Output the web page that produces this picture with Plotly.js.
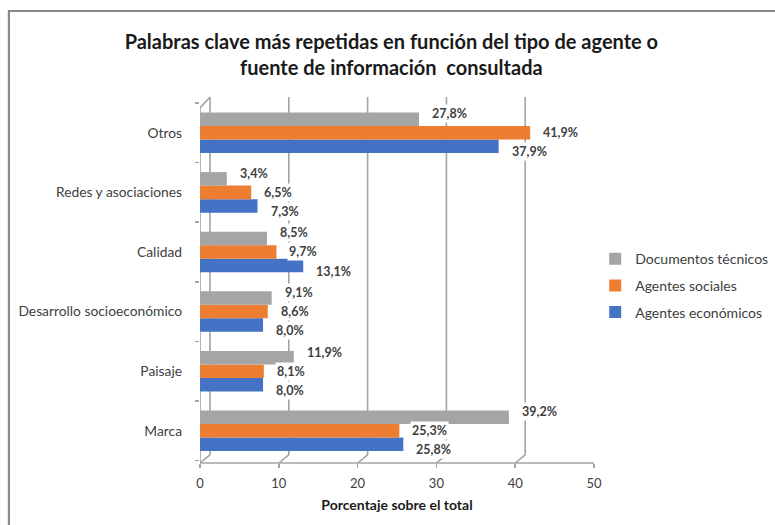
<!DOCTYPE html>
<html>
<head>
<meta charset="utf-8">
<script src="https://cdn.plot.ly/plotly-3.0.1.min.js"></script>
<style>
  html, body { margin: 0; padding: 0; background: #ffffff; }
  #chart { width: 775px; height: 525px; }
</style>
</head>
<body>
<div id="chart"></div>
<script>
// ---- Data ----
const categories = ["Marca", "Paisaje", "Desarrollo socioeconómico", "Calidad", "Redes y asociaciones", "Otros"];
const seriesNames = ["Agentes económicos", "Agentes sociales", "Documentos técnicos"];
const agentesEconomicos = [25.8, 8.0, 8.0, 13.1, 7.3, 37.9];
const agentesSociales   = [25.3, 8.1, 8.6, 9.7, 6.5, 41.9];
const documentosTecnicos = [39.2, 11.9, 9.1, 8.5, 3.4, 27.8];
const seriesColors = ["#4472c4", "#ed7d31", "#a5a5a5"];
const xTicks = [0, 10, 20, 30, 40, 50];

const seriesValues = [agentesEconomicos, agentesSociales, documentosTecnicos];

// ---- Layout constants (styling only) ----
const fontFam = "Lato, 'Open Sans', sans-serif";
const txtCol = "#404040";
const gridCol = "#a3a3a3";
const depthX = 1.27;      // 3D depth offset in x units
const depthY = 0.022;     // 3D depth offset in paper units
const topFront = 0.970;
const bargap = 0.32;

const traces = seriesValues.map((vals, s) => ({
  type: "bar",
  orientation: "h",
  name: seriesNames[s],
  y: categories,
  x: vals,
  marker: { color: seriesColors[s], line: { width: 0 } },
  legendgroup: "g" + s,
  legendrank: 3 - s,
  hoverinfo: "x+name"
}));

const shapes = [];
// back wall gridlines + floor diagonals
xTicks.forEach(v => {
  shapes.push({ type: "line", layer: "below", xref: "x", yref: "paper",
    x0: v + depthX, x1: v + depthX, y0: depthY, y1: 1,
    line: { color: gridCol, width: 1.6 } });
  shapes.push({ type: "line", layer: "below", xref: "x", yref: "paper",
    x0: v, x1: v + depthX, y0: 0, y1: depthY,
    line: { color: gridCol, width: 1.6 } });
});
// floor front edge
shapes.push({ type: "line", layer: "below", xref: "x", yref: "paper",
  x0: xTicks[0], x1: xTicks[xTicks.length - 1], y0: 0, y1: 0,
  line: { color: gridCol, width: 1.6 } });
// front left axis line + top diagonal
shapes.push({ type: "line", layer: "below", xref: "x", yref: "paper",
  x0: 0, x1: 0, y0: 0, y1: topFront, line: { color: gridCol, width: 1.6 } });
shapes.push({ type: "line", layer: "below", xref: "x", yref: "paper",
  x0: 0, x1: depthX, y0: topFront, y1: 1, line: { color: gridCol, width: 1.6 } });
// outer frame of the picture
shapes.push({ type: "rect", layer: "below", xref: "paper", yref: "paper",
  x0: -0.485, x1: 1.6, y0: -0.3, y1: 1.235,
  line: { color: "#8a8a8a", width: 2.2 }, fillcolor: "rgba(0,0,0,0)" });

// data labels
const annotations = [];
const labelOffset = 0.32;
seriesValues.forEach((vals, s) => {
  vals.forEach((v, i) => {
    annotations.push({
      xref: "x", yref: "y",
      x: v, y: i + (s - 1) * labelOffset,
      xanchor: "left", yanchor: "middle", xshift: 11,
      text: v.toFixed(1).replace(".", ",") + "%",
      showarrow: false,
      bgcolor: "#ffffff", borderpad: 1,
      font: { family: fontFam, size: 12.5, color: txtCol, weight: 700 }
    });
  });
});

const layout = {
  width: 775, height: 525,
  margin: { l: 200, r: 181, t: 97, b: 62 },
  paper_bgcolor: "#ffffff",
  plot_bgcolor: "rgba(0,0,0,0)",
  font: { family: fontFam, color: txtCol },
  title: {
    text: "Palabras clave más repetidas en función del tipo de agente o<br>fuente de información  consultada",
    font: { family: fontFam, size: 20, color: "#1a1a1a", weight: 700 },
    xref: "container", x: 0.505, xanchor: "center",
    yref: "container", y: 0.906, yanchor: "top"
  },
  barmode: "group",
  bargap: bargap,
  bargroupgap: 0,
  xaxis: {
    range: [0, 50],
    tickvals: xTicks,
    ticktext: xTicks.map(String),
    ticks: "outside", ticklen: 4, tickcolor: gridCol, tickwidth: 1.5,
    showgrid: false, zeroline: false, showline: false,
    tickfont: { family: fontFam, size: 13, color: txtCol },
    ticklabelstandoff: 4,
    title: { text: "Porcentaje sobre el total", standoff: 10,
             font: { family: fontFam, size: 14, color: "#1a1a1a", weight: 700 } },
    fixedrange: true
  },
  yaxis: {
    type: "category",
    categoryorder: "array", categoryarray: categories,
    range: [-0.54, 5.6],
    tickson: "boundaries",
    ticks: "outside", ticklen: 4, tickcolor: gridCol, tickwidth: 1.5,
    showgrid: false, zeroline: false, showline: false,
    tickfont: { family: fontFam, size: 13.8, color: txtCol },
    ticklabelstandoff: 17,
    fixedrange: true
  },
  legend: {
    xref: "container", yref: "container",
    x: 0.768, y: 0.537, xanchor: "left", yanchor: "top",
    traceorder: "grouped",
    tracegroupgap: 5.5,
    font: { family: fontFam, size: 14, color: txtCol },
    bgcolor: "rgba(0,0,0,0)"
  },
  shapes: shapes,
  annotations: annotations,
  showlegend: true
};

Plotly.newPlot("chart", traces, layout, { displayModeBar: false, staticPlot: true });
</script>
</body>
</html>
